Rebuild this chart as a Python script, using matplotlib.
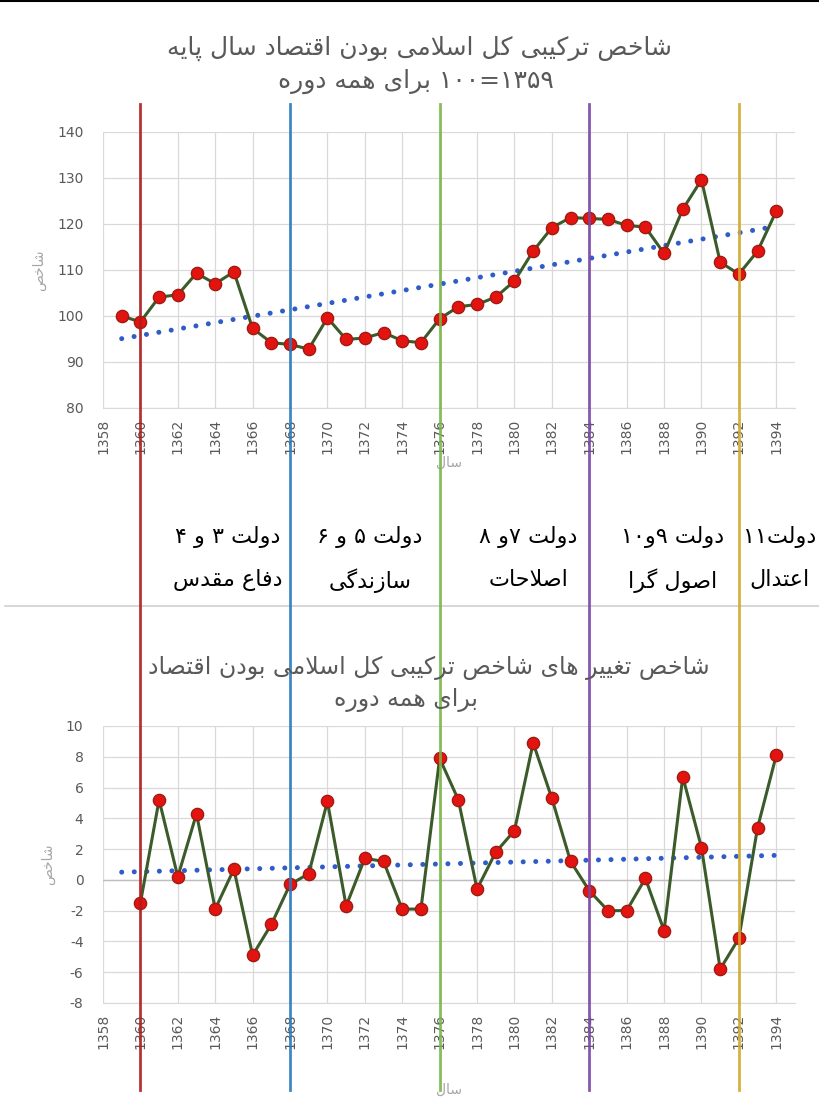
import re
import numpy as np
import matplotlib
matplotlib.use('Agg')
import matplotlib.pyplot as plt
from matplotlib.lines import Line2D
from matplotlib.transforms import blended_transform_factory

# data
years = np.arange(1359, 1395)
index_values = [100.0, 98.7, 104.1, 104.6, 109.3, 107.0, 109.6, 97.3, 94.2, 93.8,
                92.8, 99.6, 94.9, 95.2, 96.4, 94.6, 94.2, 99.4, 102.0, 102.5,
                104.1, 107.6, 114.1, 119.2, 121.4, 121.2, 121.0, 119.7, 119.3, 113.6,
                123.2, 129.6, 111.7, 109.1, 114.1, 122.8]

change_years = np.arange(1360, 1395)
change_values = [-1.5, 5.2, 0.2, 4.3, -1.9, 0.7, -4.9, -2.9, -0.3, 0.4,
                 5.1, -1.7, 1.4, 1.2, -1.9, -1.9, 7.9, 5.2, -0.6, 1.8,
                 3.2, 8.9, 5.3, 1.2, -0.7, -2.0, -2.0, 0.1, -3.3, 6.7,
                 2.1, -5.8, -3.8, 3.4, 8.1]

boundary_years = [1360, 1368, 1376, 1384, 1392]
boundary_colors = ['#b01c1c', '#2b7bbd', '#7ab648', '#7d45a8', '#d2aa2c']

era_govs = ['دولت ۳ و ۴', 'دولت ۵ و ۶', 'دولت ۷و ۸', 'دولت ۹و۱۰', 'دولت۱۱']
era_names = ['دفاع مقدس', 'سازندگی', 'اصلاحات', 'اصول گرا', 'اعتدال']

title_top = ['شاخص ترکیبی کل اسلامی بودن اقتصاد سال پایه', '۱۳۵۹=۱۰۰ برای همه دوره']
title_bottom = ['شاخص تغییر های شاخص ترکیبی کل اسلامی بودن اقتصاد', 'برای همه دوره']
ylabel = 'شاخص'
xlabel = 'سال'

# matplotlib has no arabic shaping, so pick presentation forms by hand
# (isolated, final, initial, medial)
FORMS = {
    'ا': (0xFE8D, 0xFE8E, None, None),
    'آ': (0xFE81, 0xFE82, None, None),
    'ب': (0xFE8F, 0xFE90, 0xFE91, 0xFE92),
    'پ': (0xFB56, 0xFB57, 0xFB58, 0xFB59),
    'ت': (0xFE95, 0xFE96, 0xFE97, 0xFE98),
    'ج': (0xFE9D, 0xFE9E, 0xFE9F, 0xFEA0),
    'ح': (0xFEA1, 0xFEA2, 0xFEA3, 0xFEA4),
    'خ': (0xFEA5, 0xFEA6, 0xFEA7, 0xFEA8),
    'د': (0xFEA9, 0xFEAA, None, None),
    'ر': (0xFEAD, 0xFEAE, None, None),
    'ز': (0xFEAF, 0xFEB0, None, None),
    'س': (0xFEB1, 0xFEB2, 0xFEB3, 0xFEB4),
    'ش': (0xFEB5, 0xFEB6, 0xFEB7, 0xFEB8),
    'ص': (0xFEB9, 0xFEBA, 0xFEBB, 0xFEBC),
    'ع': (0xFEC9, 0xFECA, 0xFECB, 0xFECC),
    'غ': (0xFECD, 0xFECE, 0xFECF, 0xFED0),
    'ف': (0xFED1, 0xFED2, 0xFED3, 0xFED4),
    'ق': (0xFED5, 0xFED6, 0xFED7, 0xFED8),
    'ک': (0xFB8E, 0xFB8F, 0xFB90, 0xFB91),
    'گ': (0xFB92, 0xFB93, 0xFB94, 0xFB95),
    'ل': (0xFEDD, 0xFEDE, 0xFEDF, 0xFEE0),
    'م': (0xFEE1, 0xFEE2, 0xFEE3, 0xFEE4),
    'ن': (0xFEE5, 0xFEE6, 0xFEE7, 0xFEE8),
    'ه': (0xFEE9, 0xFEEA, 0xFEEB, 0xFEEC),
    'و': (0xFEED, 0xFEEE, None, None),
    'ی': (0xFBFC, 0xFBFD, 0xFBFE, 0xFBFF),
}


def dual(c):
    return c in FORMS and FORMS[c][2] is not None


def rtl(text):
    out = []
    i = 0
    while i < len(text):
        c = text[i]
        prev = text[i - 1] if i > 0 else ''
        nxt = text[i + 1] if i + 1 < len(text) else ''
        if c not in FORMS:
            out.append(c)
            i += 1
            continue
        before = dual(prev)
        if c == 'ل' and nxt == 'ا':
            out.append(chr(0xFEFC if before else 0xFEFB))
            i += 2
            continue
        after = dual(c) and nxt in FORMS
        iso, fin, ini, med = FORMS[c]
        if before and after:
            g = med
        elif before:
            g = fin
        elif after:
            g = ini
        else:
            g = iso
        out.append(chr(g))
        i += 1
    vis = ''.join(reversed(out))
    # numbers keep left-to-right order
    return re.sub(r'[0-9۰-۹]+', lambda m: m.group(0)[::-1], vis)


plt.rcParams['font.family'] = ['DejaVu Sans']
plt.rcParams['axes.unicode_minus'] = False
gray = '#595959'
grid_c = '#d9d9d9'

fig = plt.figure(figsize=(8.2, 10.99), dpi=100)
ax1 = fig.add_axes([0.1256, 0.6288, 0.8439, 0.2511])
ax2 = fig.add_axes([0.1256, 0.0874, 0.8439, 0.2520])


def style(ax, ylim, step, xpad):
    ax.set_xlim(1358, 1395)
    ax.set_ylim(*ylim)
    ax.set_xticks(np.arange(1358, 1395, 2))
    ax.set_yticks(np.arange(ylim[0], ylim[1] + 0.1, step))
    ax.grid(True, color=grid_c, lw=0.9)
    ax.set_axisbelow(True)
    for s in ['top', 'right', 'left']:
        ax.spines[s].set_visible(False)
    ax.spines['bottom'].set_color(grid_c)
    ax.tick_params(axis='x', rotation=90, length=0, pad=8, labelsize=10, labelcolor=gray)
    ax.tick_params(axis='y', length=0, pad=14, labelsize=10, labelcolor=gray)
    ax.set_ylabel(rtl(ylabel), color='#a6a6a6', fontsize=10, labelpad=8)
    ax.set_xlabel(rtl(xlabel), color='#a6a6a6', fontsize=10, labelpad=xpad)


def series(ax, x, y, trend_x):
    coef = np.polyfit(x, y, 1)
    ax.plot(trend_x, np.polyval(coef, trend_x), color='#2f5cc8', lw=3.6,
            linestyle=(0, (0.01, 2.5)), dash_capstyle='round', zorder=2)
    ax.plot(x, y, color='#3b5b2b', lw=2.2, marker='o', markersize=8.8,
            markerfacecolor='#e3140f', markeredgecolor='#a11a12',
            markeredgewidth=1.0, zorder=3)


style(ax1, (80, 140), 10, 1)
series(ax1, years, index_values, years)
style(ax2, (-8, 10), 2, 24)
ax2.axhline(0, color='#bfbfbf', lw=1.0, zorder=1)
series(ax2, change_years, change_values, years)

# titles
fig.text(0.512, 0.956, rtl(title_top[0]), ha='center', va='center', fontsize=18, color=gray)
fig.text(0.507, 0.926, rtl(title_top[1]), ha='center', va='center', fontsize=18, color=gray)
fig.text(0.523, 0.392, rtl(title_bottom[0]), ha='center', va='center', fontsize=17, color=gray)
fig.text(0.495, 0.363, rtl(title_bottom[1]), ha='center', va='center', fontsize=17, color=gray)

# era labels between the two charts
col_x = [0.278, 0.451, 0.644, 0.820, 0.951]
for cx, g, n in zip(col_x, era_govs, era_names):
    fig.text(cx, 0.511, rtl(g), ha='center', va='center', fontsize=16, color='black')
    fig.text(cx, 0.472, rtl(n), ha='center', va='center', fontsize=16, color='black')

# borders
fig.add_artist(Line2D([0, 1], [0.999, 0.999], color='black', lw=1.5, transform=fig.transFigure))
fig.add_artist(Line2D([0.006, 1], [0.449, 0.449], color='#d0d0d0', lw=1.2, transform=fig.transFigure))

# government change lines through the whole figure
tr = blended_transform_factory(ax1.transData, fig.transFigure)
for yr, c in zip(boundary_years, boundary_colors):
    fig.add_artist(Line2D([yr, yr], [0.008, 0.905], color=c, lw=2.0, alpha=0.9, transform=tr))

fig.savefig('out.png', dpi=100)
